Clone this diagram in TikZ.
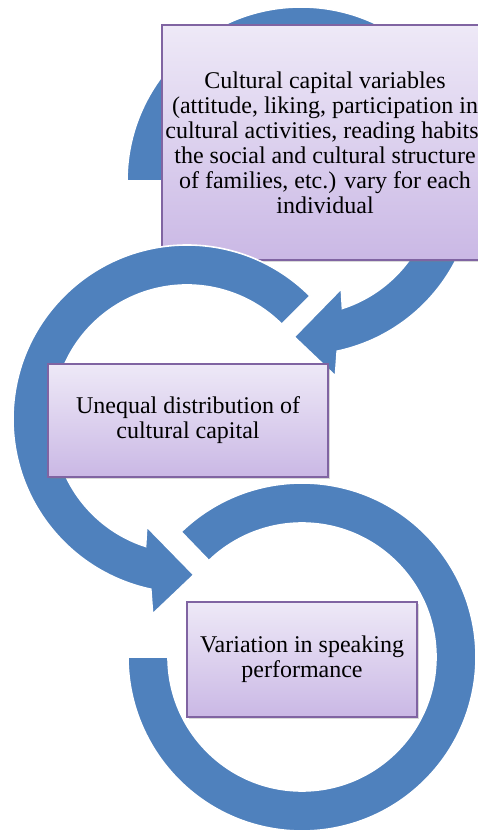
\documentclass[tikz,border=0pt]{standalone}
\usepackage{fontspec}
\setmainfont{Liberation Serif}
\usetikzlibrary{shadows}
\definecolor{arrowblue}{HTML}{4F81BD}
\definecolor{boxborder}{HTML}{8064A2}
\definecolor{boxtop}{HTML}{EEE9F7}
\definecolor{boxbot}{HTML}{CAB8E5}
\begin{document}
\begin{tikzpicture}[x=1pt,y=1pt,
  circarrow/.style={fill=arrowblue, draw=white, line width=1.6pt, line join=miter},
  stagebox/.style={draw=boxborder, line width=1.2pt, top color=boxtop, bottom color=boxbot,
    align=center, font=\fontsize{24}{25}\selectfont, inner sep=0pt,
    drop shadow={shadow xshift=2pt, shadow yshift=-2.5pt, opacity=0.3}}]
\useasboundingbox (0,0) rectangle (478,830);
\clip (0,0) rectangle (478,830);
\coordinate (c1) at (301,649);
\coordinate (c2) at (187,411);
\coordinate (c3) at (302,173);
% circular arrow 1
\path[circarrow] ([shift={(c1)}]180:174) arc[start angle=180, end angle=-78, radius=174]
  -- ([shift={(c1)}]-80:198) -- ([shift={(c1)}]-92.5:156) -- ([shift={(c1)}]-69.5:115)
  -- ([shift={(c1)}]-72:134) arc[start angle=-72, end angle=180, radius=134] -- cycle;
\node[stagebox, minimum width=326pt, minimum height=235pt] (b1) at (325,687.5)
  {Cultural capital variables\\(attitude, liking, participation in\\cultural activities, reading habits,\\the social and cultural structure\\of families, etc.) vary for each\\individual};
% circular arrow 2
\path[circarrow] ([shift={(c2)}]45:174) arc[start angle=45, end angle=258, radius=174]
  -- ([shift={(c2)}]260:198) -- ([shift={(c2)}]272.5:156) -- ([shift={(c2)}]249.5:115)
  -- ([shift={(c2)}]252:134) arc[start angle=252, end angle=45, radius=134] -- cycle;
\node[stagebox, minimum width=280pt, minimum height=113pt] (b2) at (188,409.5)
  {Unequal distribution of\\cultural capital};
% circular arrow 3
\path[circarrow] ([shift={(c3)}]134:174) arc[start angle=134, end angle=-180, radius=174]
  -- ([shift={(c3)}]180:134) arc[start angle=-180, end angle=134, radius=134] -- cycle;
\node[stagebox, minimum width=230pt, minimum height=115pt] (b3) at (302,170.5)
  {Variation in speaking\\performance};
\end{tikzpicture}
\end{document}
